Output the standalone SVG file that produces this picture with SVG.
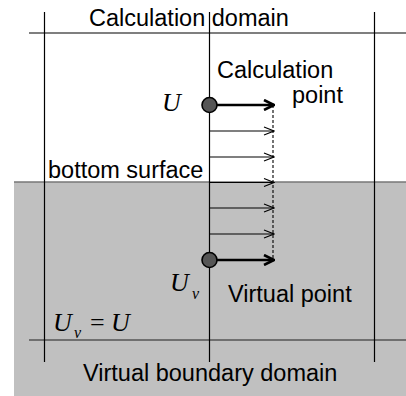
<svg xmlns="http://www.w3.org/2000/svg" width="406" height="396" viewBox="0 0 406 396">
  <style>
    .lbl { font-family: "Liberation Sans", Arial, sans-serif; font-size: 23.5px; fill: #000; }
    .math { font-family: "Liberation Serif", "Times New Roman", serif; font-style: italic; font-size: 26px; fill: #000; }
    .sub { font-family: "Liberation Serif", "Times New Roman", serif; font-style: italic; font-size: 16px; fill: #000; }
    .op { font-family: "Liberation Serif", "Times New Roman", serif; font-size: 26px; fill: #000; }
    .grid { stroke: #000; stroke-width: 1.2; fill: none; }
    .hgrid { stroke: #555; stroke-width: 1.6; fill: none; }
    .thick { stroke: #000; stroke-width: 2.6; fill: none; }
    .thin { stroke: #000; stroke-width: 1.1; fill: none; }
    .pt { fill: #555; stroke: #000; stroke-width: 1.6; }
  </style>
  <defs>
    <marker id="headThick" viewBox="0 0 12 12" refX="11" refY="6" markerWidth="12" markerHeight="12" markerUnits="userSpaceOnUse" orient="auto">
      <path d="M1,1 L11,6 L1,11" fill="none" stroke="#000" stroke-width="2.6"/>
    </marker>
    <marker id="headThin" viewBox="0 0 12 10" refX="11" refY="5" markerWidth="12" markerHeight="10" markerUnits="userSpaceOnUse" orient="auto">
      <path d="M1,1 L11,5 L1,9" fill="none" stroke="#000" stroke-width="1.1"/>
    </marker>
  </defs>

  <!-- virtual boundary domain background -->
  <g id="virtual-domain-bg">
    <rect x="14" y="182" width="392" height="214" fill="#c0c0c0"/>
    <line x1="14" y1="182" x2="406" y2="182" stroke="#777" stroke-width="1.5"/>
  </g>

  <!-- grid lines -->
  <g id="grid">
    <line class="hgrid" x1="29" y1="33" x2="406" y2="33"/>
    <line class="hgrid" x1="29" y1="340" x2="406" y2="340"/>
    <line class="grid" x1="44.5" y1="12" x2="44.5" y2="362"/>
    <line class="grid" x1="209.5" y1="12" x2="209.5" y2="362"/>
    <line class="grid" x1="374.5" y1="12" x2="374.5" y2="362"/>
  </g>

  <!-- connectors: velocity arrows and profile -->
  <g id="connectors">
    <line class="thin" x1="273" y1="105" x2="273" y2="260" stroke-dasharray="3,2"/>
    <line class="thick" x1="209.5" y1="105" x2="274" y2="105" marker-end="url(#headThick)"/>
    <line class="thin" x1="209.5" y1="131" x2="274" y2="131" marker-end="url(#headThin)"/>
    <line class="thin" x1="209.5" y1="157" x2="274" y2="157" marker-end="url(#headThin)"/>
    <line class="thin" x1="209.5" y1="182.5" x2="274" y2="182.5" marker-end="url(#headThin)"/>
    <line class="thin" x1="209.5" y1="208" x2="274" y2="208" marker-end="url(#headThin)"/>
    <line class="thin" x1="209.5" y1="234" x2="274" y2="234" marker-end="url(#headThin)"/>
    <line class="thick" x1="209.5" y1="260" x2="274" y2="260" marker-end="url(#headThick)"/>
  </g>

  <!-- calculation point -->
  <g id="calculation-point">
    <circle class="pt" cx="209.5" cy="105" r="7.5"/>
    <text class="math" x="162" y="111">U</text>
    <text class="lbl" x="217" y="78">Calculation</text>
    <text class="lbl" x="292" y="103">point</text>
  </g>

  <!-- virtual point -->
  <g id="virtual-point">
    <circle class="pt" cx="209.5" cy="260" r="7.5"/>
    <text class="math" x="170" y="291">U</text>
    <text class="sub" x="192" y="299">v</text>
    <text class="lbl" x="228" y="302">Virtual point</text>
  </g>

  <!-- labels -->
  <g id="calculation-domain">
    <text class="lbl" x="89" y="26">Calculation domain</text>
  </g>
  <g id="bottom-surface">
    <text class="lbl" x="48" y="178">bottom surface</text>
  </g>
  <g id="equation">
    <text class="math" x="53" y="331">U</text>
    <text class="sub" x="74" y="338">v</text>
    <text class="op" x="90" y="331">=</text>
    <text class="math" x="111" y="331">U</text>
  </g>
  <g id="virtual-boundary-domain">
    <text class="lbl" x="83" y="381">Virtual boundary domain</text>
  </g>
</svg>
